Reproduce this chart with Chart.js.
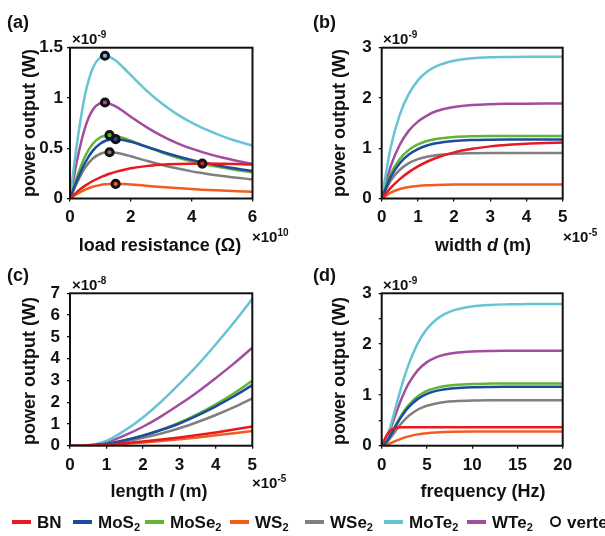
<!DOCTYPE html>
<html><head><meta charset="utf-8">
<script src="https://cdn.jsdelivr.net/npm/chart.js@4.4.1/dist/chart.umd.min.js"></script>
<style>
html,body{margin:0;padding:0;background:#fff;}
#wrap{position:relative;width:605px;height:536px;overflow:hidden;font-family:"Liberation Sans",Arial,sans-serif;font-weight:bold;color:#111;}
canvas{position:absolute;left:0;top:0;}
.t{position:absolute;white-space:nowrap;line-height:1;}
.pl{font-size:18px;}
.ex{font-size:15px;}
.ex sup{font-size:10px;position:relative;top:-6px;vertical-align:baseline;}
.xt{font-size:18px;transform:translate(-50%,-50%);}
.yt{font-size:18px;transform:translate(-50%,-50%) rotate(-90deg);}
.lg{font-size:17px;transform:translateY(-50%);top:522px;}
.lg sub{font-size:11px;position:relative;top:3px;vertical-align:baseline;}
.ln{position:absolute;height:4px;width:19px;top:520px;}
.ring{position:absolute;left:550px;top:516px;width:7px;height:7px;border:2.5px solid #111;border-radius:50%;background:#fff;}
</style></head><body>
<div id="wrap">
<canvas id="ca" width="605" height="536"></canvas>
<canvas id="cb" width="605" height="536"></canvas>
<canvas id="cc" width="605" height="536"></canvas>
<canvas id="cd" width="605" height="536"></canvas>

<div class="t pl" style="left:7px;top:13px;">(a)</div>
<div class="t pl" style="left:313px;top:13px;">(b)</div>
<div class="t pl" style="left:7px;top:266px;">(c)</div>
<div class="t pl" style="left:313px;top:266px;">(d)</div>

<div class="t ex" style="left:72px;top:31px;">×10<sup>-9</sup></div>
<div class="t ex" style="left:383px;top:31px;">×10<sup>-9</sup></div>
<div class="t ex" style="left:72px;top:277px;">×10<sup>-8</sup></div>
<div class="t ex" style="left:383px;top:277px;">×10<sup>-9</sup></div>

<div class="t ex" style="left:252px;top:229px;">×10<sup>10</sup></div>
<div class="t ex" style="left:563px;top:229px;">×10<sup>-5</sup></div>
<div class="t ex" style="left:252px;top:475px;">×10<sup>-5</sup></div>

<div class="t yt" style="left:29px;top:123px;">power output (W)</div>
<div class="t yt" style="left:339px;top:123px;">power output (W)</div>
<div class="t yt" style="left:29px;top:371px;">power output (W)</div>
<div class="t yt" style="left:339px;top:371px;">power output (W)</div>

<div class="t xt" style="left:160px;top:245px;">load resistance (Ω)</div>
<div class="t xt" style="left:483px;top:245px;">width <i>d</i> (m)</div>
<div class="t xt" style="left:159px;top:491px;">length <i>l</i> (m)</div>
<div class="t xt" style="left:483px;top:491px;">frequency (Hz)</div>

<div id="legend"></div>
</div>
<script>
// ---------- data ----------
const seriesNames = ['BN', 'MoS₂', 'MoSe₂', 'WS₂', 'WSe₂', 'MoTe₂', 'WTe₂'];

// (a) power (×1e-9 W) vs load resistance (×1e10 Ω)
const loadR = [0, 0.25, 0.5, 0.75, 1, 1.15, 1.3, 1.5, 1.75, 2, 2.5, 3, 3.5, 4, 4.35, 5, 5.5, 6];
const aBN    = [0, .071, .128, .174, .211, .229, .246, .265, .284, .300, .322, .335, .343, .346, .347, .345, .342, .338];
const aMoS2  = [0, .194, .358, .476, .547, .572, .585, .590, .582, .564, .517, .468, .423, .384, .360, .321, .296, .274];
const aMoSe2 = [0, .233, .423, .545, .609, .625, .630, .623, .603, .576, .516, .460, .411, .370, .346, .307, .282, .261];
const aWS2   = [0, .048, .088, .117, .135, .141, .144, .145, .143, .139, .127, .115, .104, .094, .088, .079, .073, .067];
const aWSe2  = [0, .170, .309, .398, .445, .457, .460, .455, .440, .420, .377, .336, .300, .270, .253, .224, .206, .190];
const aMoTe2 = [0, .589, 1.039, 1.299, 1.406, 1.420, 1.409, 1.372, 1.303, 1.227, 1.078, .949, .842, .754, .702, .621, .569, .525];
const aWTe2  = [0, .406, .711, .883, .949, .955, .944, .916, .867, .814, .713, .626, .554, .496, .461, .407, .373, .344];
// vertices (maximum power points), same order as seriesNames
const vertexR = [4.35, 1.5, 1.3, 1.5, 1.3, 1.15, 1.15];
const vertexP = [.347, .590, .630, .145, .460, 1.420, .955];

// (b) power (×1e-9 W) vs width d (×1e-5 m)
const widthD = [0, 0.25, 0.5, 0.75, 1, 1.25, 1.5, 2, 2.5, 3, 3.5, 4, 4.5, 5];
const bBN    = [0, .212, .385, .525, .638, .731, .806, .917, .988, 1.037, 1.069, 1.090, 1.103, 1.112];
const bMoS2  = [0, .429, .701, .874, .984, 1.054, 1.098, 1.144, 1.163, 1.170, 1.173, 1.174, 1.175, 1.175];
const bMoSe2 = [0, .490, .787, .967, 1.077, 1.143, 1.183, 1.222, 1.237, 1.242, 1.244, 1.245, 1.245, 1.245];
const bWS2   = [0, .119, .188, .227, .250, .263, .270, .277, .279, .280, .280, .280, .280, .280];
const bWSe2  = [0, .356, .572, .703, .783, .831, .860, .889, .899, .903, .904, .905, .905, .905];
const bMoTe2 = [0, 1.02, 1.67, 2.08, 2.35, 2.52, 2.63, 2.74, 2.79, 2.81, 2.815, 2.82, 2.82, 2.82];
const bWTe2  = [0, .645, 1.07, 1.35, 1.53, 1.65, 1.735, 1.82, 1.86, 1.877, 1.884, 1.887, 1.889, 1.89];

// (c) power (×1e-8 W) vs length l (×1e-5 m)
const lengthL = [0, 0.5, 1, 1.5, 2, 2.5, 3, 3.5, 4, 4.5, 5];
const cBN    = [0, .01, .05, .11, .19, .28, .38, .49, .61, .74, .88];
const cMoS2  = [0, .015, .09, .25, .46, .72, 1.02, 1.39, 1.81, 2.27, 2.78];
const cMoSe2 = [0, .015, .09, .25, .47, .74, 1.06, 1.45, 1.90, 2.41, 2.98];
const cWS2   = [0, .01, .04, .085, .145, .215, .295, .38, .475, .575, .68];
const cWSe2  = [0, .01, .07, .19, .36, .56, .80, 1.09, 1.41, 1.77, 2.17];
const cMoTe2 = [0, .03, .22, .70, 1.30, 2.02, 2.84, 3.70, 4.66, 5.67, 6.75];
const cWTe2  = [0, .02, .15, .47, .87, 1.35, 1.89, 2.47, 3.11, 3.78, 4.50];

// (d) power (×1e-9 W) vs frequency (Hz)
const freqF = [0, 0.5, 1, 1.5, 2, 2.5, 3, 4, 5, 6, 7, 8, 10, 12, 14, 16, 18, 20];
const dBN    = [0, .19, .31, .35, .36, .363, .365, .365, .365, .365, .365, .365, .365, .365, .365, .365, .365, .365];
const dMoS2  = [0, .068, .211, .370, .522, .654, .763, .922, 1.020, 1.079, 1.113, 1.133, 1.151, 1.157, 1.159, 1.16, 1.16, 1.16];
const dMoSe2 = [0, .072, .222, .391, .551, .690, .806, .974, 1.077, 1.139, 1.175, 1.196, 1.216, 1.222, 1.224, 1.225, 1.225, 1.225];
const dWS2   = [0, .017, .051, .089, .126, .158, .184, .223, .246, .260, .269, .273, .278, .279, .28, .28, .28, .28];
const dWSe2  = [0, .053, .162, .286, .403, .504, .589, .712, .787, .832, .859, .874, .888, .893, .894, .895, .895, .895];
const dMoTe2 = [0, .125, .40, .726, 1.05, 1.35, 1.61, 2.02, 2.30, 2.48, 2.594, 2.668, 2.742, 2.772, 2.783, 2.787, 2.789, 2.79];
const dWTe2  = [0, .11, .34, .597, .842, 1.054, 1.23, 1.487, 1.645, 1.739, 1.794, 1.826, 1.856, 1.865, 1.868, 1.87, 1.87, 1.87];

// ---------- styles ----------
const seriesColors = ['#e8191f', '#1d4b9e', '#62b532', '#f25c1f', '#7f7f7f', '#68c4d5', '#a24c9f'];
const FONT = { family: 'Liberation Sans, Arial, sans-serif', size: 17, weight: 'bold' };

// legend (HTML)
(function () {
  const lg = document.getElementById('legend');
  const textX = [37, 98, 170, 255, 330, 409, 492];
  seriesNames.forEach((n, i) => {
    const l = document.createElement('div');
    l.className = 'ln'; l.style.left = (textX[i] - 25) + 'px'; l.style.background = seriesColors[i];
    lg.appendChild(l);
    const t = document.createElement('div');
    t.className = 't lg'; t.style.left = textX[i] + 'px';
    t.innerHTML = n.replace('₂', '<sub>2</sub>');
    lg.appendChild(t);
  });
  const r = document.createElement('div'); r.className = 'ring'; lg.appendChild(r);
  const vt = document.createElement('div'); vt.className = 't lg'; vt.style.left = '567px'; vt.textContent = 'vertex';
  lg.appendChild(vt);
})();

const framePlugin = {
  id: 'frame',
  afterDatasetsDraw(chart) {
    const a = chart.chartArea, c = chart.ctx;
    c.save(); c.strokeStyle = '#111'; c.lineWidth = 2;
    c.strokeRect(a.left, a.top, a.right - a.left, a.bottom - a.top);
    c.restore();
  }
};

function lineSets(xs, list) {
  return list.map((ys, i) => ({
    label: seriesNames[i],
    data: xs.map((x, j) => ({ x: x, y: ys[j] })),
    borderColor: seriesColors[i],
    backgroundColor: seriesColors[i],
    borderWidth: 2.5,
    pointRadius: 0,
    fill: false,
    cubicInterpolationMode: 'monotone'
  }));
}

function makeChart(id, area, xs, ys, datasets) {
  const YW = 40, XH = 40;
  return new Chart(document.getElementById(id), {
    type: 'line',
    data: { datasets: datasets },
    options: {
      responsive: false, animation: false, devicePixelRatio: 1,
      layout: { padding: { left: area.L - YW, top: area.T, right: 605 - area.R, bottom: 536 - area.B - XH } },
      plugins: { legend: { display: false }, tooltip: { enabled: false } },
      scales: {
        x: {
          type: 'linear', min: xs.min, max: xs.max,
          ticks: { stepSize: xs.step, font: FONT, color: '#111', padding: 6, maxRotation: 0, autoSkip: false },
          grid: { drawOnChartArea: false, drawTicks: true, tickLength: 3, color: '#111', lineWidth: 1.3 },
          border: { display: false },
          afterFit: s => { s.height = XH; }
        },
        y: {
          type: 'linear', min: ys.min, max: ys.max,
          ticks: { stepSize: ys.step, font: FONT, color: '#111', padding: ys.pad, autoSkip: false,
                   callback: ys.cb || (v => v) },
          grid: { drawOnChartArea: false, drawTicks: true, tickLength: 3, color: '#111', lineWidth: 1.3 },
          border: { display: false },
          afterFit: s => { s.width = YW; }
        }
      }
    },
    plugins: [framePlugin]
  });
}

// (a)
const vertexSet = {
  label: 'vertex',
  data: vertexR.map((x, i) => ({ x: x, y: vertexP[i] })),
  showLine: false,
  pointRadius: 3.6,
  pointBorderWidth: 3,
  pointBorderColor: '#161010',
  pointBackgroundColor: seriesColors
};
makeChart('ca', { L: 70, T: 47.7, R: 252.5, B: 198.5 },
  { min: 0, max: 6, step: 2 }, { min: 0, max: 1.5, step: 0.5, pad: 4 },
  [vertexSet].concat(lineSets(loadR, [aBN, aMoS2, aMoSe2, aWS2, aWSe2, aMoTe2, aWTe2])));
// (b)
makeChart('cb', { L: 381.7, T: 47.7, R: 562.7, B: 198.5 },
  { min: 0, max: 5, step: 1 }, { min: 0, max: 3, step: 1, pad: 7 },
  lineSets(widthD, [bBN, bMoS2, bMoSe2, bWS2, bWSe2, bMoTe2, bWTe2]));
// (c)
makeChart('cc', { L: 70, T: 293.3, R: 252.3, B: 445.7 },
  { min: 0, max: 5, step: 1 }, { min: 0, max: 7, step: 1, pad: 7 },
  lineSets(lengthL, [cBN, cMoS2, cMoSe2, cWS2, cWSe2, cMoTe2, cWTe2]));
// (d)
makeChart('cd', { L: 381.7, T: 293.3, R: 562.7, B: 445.7 },
  { min: 0, max: 20, step: 5 }, { min: 0, max: 3, step: 0.5, pad: 7, cb: v => (v % 1 === 0 ? v : '') },
  lineSets(freqF, [dBN, dMoS2, dMoSe2, dWS2, dWSe2, dMoTe2, dWTe2]));
</script>
</body></html>
